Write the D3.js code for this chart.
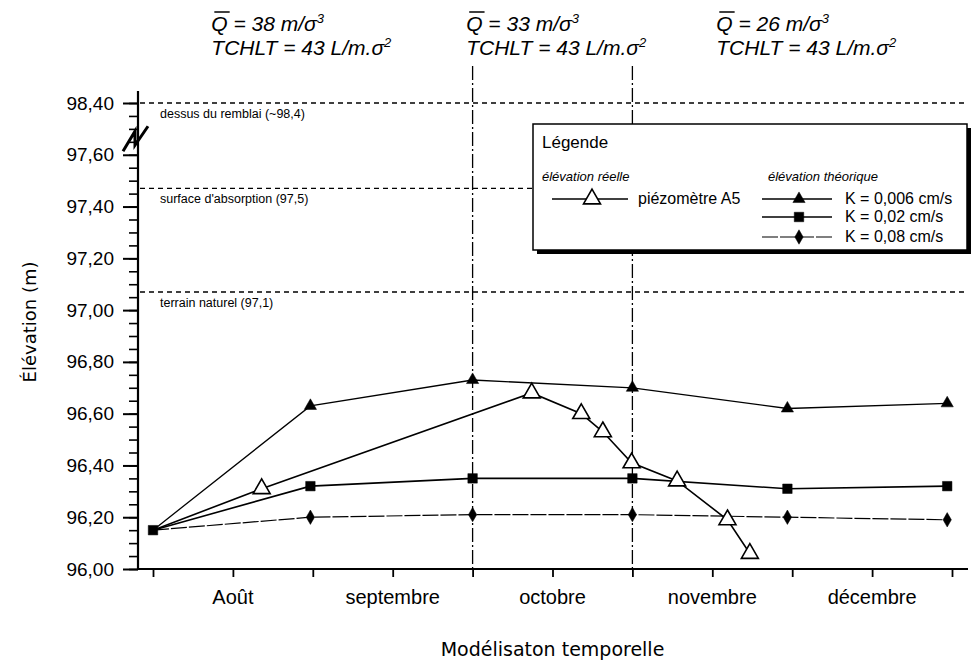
<!DOCTYPE html>
<html>
<head>
<meta charset="utf-8">
<script src="https://cdn.jsdelivr.net/npm/d3@7"></script>
<style>
  body { margin: 0; background: #fff; }
  text { font-family: "Liberation Sans", Arial, sans-serif; fill: #000; }
</style>
</head>
<body>
<div id="chart"></div>
<script>
// x positions in half-month steps (tick 0..10), y in metres
var months = ["Août", "septembre", "octobre", "novembre", "décembre"];
var yTickValues = [96.0, 96.2, 96.4, 96.6, 96.8, 97.0, 97.2, 97.4, 97.6, 98.4];
var yTickLabels = ["96,00", "96,20", "96,40", "96,60", "96,80", "97,00", "97,20", "97,40", "97,60", "98,40"];

var piezoX = [0, 1.36, 4.74, 5.36, 5.63, 5.99, 6.56, 7.19, 7.47];
var piezoY = [96.15, 96.31, 96.68, 96.60, 96.53, 96.41, 96.34, 96.19, 96.06];

var theoX = [0, 1.97, 4.0, 6.0, 7.94, 9.94];
var k006 = [96.15, 96.63, 96.73, 96.70, 96.62, 96.64];
var k002 = [96.15, 96.32, 96.35, 96.35, 96.31, 96.32];
var k008 = [96.15, 96.20, 96.21, 96.21, 96.20, 96.19];

var refNames = ["dessus du remblai (~98,4)", "surface d'absorption (97,5)", "terrain naturel (97,1)"];
var refValues = [98.4, 97.47, 97.07];

var periodX = [4, 6];
var periodQ = ["38", "33", "26"];
var periodTitleX = [0.73, 3.92, 7.05];

var W = 974, H = 667;
var svg = d3.select("#chart").append("svg")
    .attr("width", W).attr("height", H);

// broken axis: values above 97.7 are shifted down by 0.6
function disp(v) { return v >= 97.7 ? v - 0.6 : v; }

var x = d3.scaleLinear().domain([0, 10]).range([153, 952]);
var y = d3.scaleLinear().domain([96, 97.8]).range([569, 103]);
var axisX = 138;

// y axis - minor ticks
svg.append("g")
    .attr("transform", "translate(" + axisX + ",0)")
    .call(d3.axisLeft(y).tickValues(d3.range(0, 37).map(function(i){ return 96 + i * 0.05; }))
          .tickSize(9).tickFormat(""))
    .call(function(g){ g.select(".domain").remove(); g.selectAll("line").attr("stroke-width", 1.6); });

// y axis - major ticks
svg.append("g")
    .attr("transform", "translate(" + axisX + ",0)")
    .call(d3.axisLeft(y).tickValues(yTickValues.map(disp))
          .tickSize(15).tickPadding(9)
          .tickFormat(function(d, i){ return yTickLabels[i]; }))
    .call(function(g){
      g.select(".domain").remove();
      g.selectAll("line").attr("stroke-width", 2);
      g.selectAll("text").style("font-size", "19px").style("font-family", "Liberation Sans, Arial, sans-serif");
    });

svg.append("line")
    .attr("x1", axisX).attr("x2", axisX)
    .attr("y1", 91).attr("y2", y(96) + 1)
    .attr("stroke", "#000").attr("stroke-width", 2.2);

// axis break mark
var yb = y(97.66);
svg.append("path")
    .attr("d", "M" + (axisX - 15) + "," + (yb + 12) + " L" + (axisX - 3) + "," + (yb - 8) +
               " L" + (axisX - 3) + "," + (yb + 6) + " L" + (axisX + 10) + "," + (yb - 13))
    .attr("fill", "none").attr("stroke", "#000").attr("stroke-width", 3)
    .attr("stroke-linejoin", "miter");

// x axis
svg.append("line")
    .attr("x1", axisX - 1).attr("x2", 968)
    .attr("y1", y(96)).attr("y2", y(96))
    .attr("stroke", "#000").attr("stroke-width", 2.2);
svg.append("g")
    .attr("transform", "translate(0," + y(96) + ")")
    .call(d3.axisBottom(x).ticks(10).tickSize(8).tickFormat(""))
    .call(function(g){ g.select(".domain").remove(); g.selectAll("line").attr("stroke-width", 1.8); });

svg.selectAll(".month")
  .data(months)
  .enter()
  .append("text")
    .attr("x", function(d, i){ return x(1 + 2 * i); })
    .attr("y", 604)
    .attr("text-anchor", "middle")
    .style("font-size", "20px")
    .text(function(d){ return d; });

// axis titles
svg.append("text")
    .attr("x", (x(0) + x(10)) / 2)
    .attr("y", 656)
    .attr("text-anchor", "middle")
    .style("font-family", "DejaVu Sans, sans-serif")
    .style("font-size", "19px")
    .text("Modélisaton temporelle");

svg.append("text")
    .attr("transform", "translate(36," + 322 + ") rotate(-90)")
    .attr("text-anchor", "middle")
    .style("font-family", "DejaVu Sans, sans-serif")
    .style("font-size", "18px")
    .text("Élévation (m)");

// reference levels
refValues.forEach(function(v, i){
  svg.append("line")
      .attr("x1", axisX + 2).attr("x2", 968)
      .attr("y1", y(disp(v))).attr("y2", y(disp(v)))
      .attr("stroke", "#000").attr("stroke-width", 1.3)
      .attr("stroke-dasharray", "5,4");
  svg.append("text")
      .attr("x", 160).attr("y", y(disp(v)) + 15)
      .style("font-size", "12.5px")
      .text(refNames[i]);
});

// period separators
periodX.forEach(function(v){
  svg.append("line")
      .attr("x1", x(v)).attr("x2", x(v))
      .attr("y1", 66).attr("y2", y(96))
      .attr("stroke", "#000").attr("stroke-width", 1.3)
      .attr("stroke-dasharray", "14,3,2,3");
});

// period titles
periodQ.forEach(function(q, i){
  var tx = x(periodTitleX[i]);
  var t1 = svg.append("text")
      .attr("x", tx).attr("y", 31)
      .style("font-size", "21px").style("font-style", "italic");
  t1.append("tspan").text("Q = " + q + " m/σ");
  t1.append("tspan").attr("dy", -8).style("font-size", "13px").text("3");
  var qw = t1.node().getSubStringLength(0, 1);
  var qx = t1.node().getStartPositionOfChar(0).x;
  svg.append("line")
      .attr("x1", qx + 3).attr("x2", qx + qw + 2)
      .attr("y1", 12).attr("y2", 12)
      .attr("stroke", "#000").attr("stroke-width", 1.5);
  var t2 = svg.append("text")
      .attr("x", tx).attr("y", 55)
      .style("font-size", "21px").style("font-style", "italic");
  t2.append("tspan").text("TCHLT = 43 L/m.σ");
  t2.append("tspan").attr("dy", -8).style("font-size", "13px").text("2");
});

// series
var line = d3.line()
    .x(function(d){ return x(d[0]); })
    .y(function(d){ return y(d[1]); });

function zipXY(xs, ys){ return xs.map(function(v, i){ return [v, ys[i]]; }); }

var series = [
  {pts: zipXY(theoX, k006), sym: d3.symbolTriangle, size: 65, fill: "#000", sw: 1.3, dash: null},
  {pts: zipXY(theoX, k008), sym: d3.symbolDiamond, size: 60, fill: "#000", sw: 1.2, dash: "16,2"},
  {pts: zipXY(theoX, k002), sym: d3.symbolSquare, size: 90, fill: "#000", sw: 1.6, dash: null},
  {pts: zipXY(piezoX, piezoY), sym: d3.symbolTriangle, size: 125, fill: "#fff", sw: 1.6, dash: null}
];

series.forEach(function(s){
  svg.append("path")
      .datum(s.pts)
      .attr("d", line)
      .attr("fill", "none")
      .attr("stroke", "#000")
      .attr("stroke-width", s.sw)
      .attr("stroke-dasharray", s.dash);
});

series.forEach(function(s, si){
  svg.selectAll(".m" + si)
    .data(s.pts.filter(function(d, i){ return i > 0 || s.sym === d3.symbolSquare; }))
    .enter()
    .append("path")
      .attr("transform", function(d){ return "translate(" + x(d[0]) + "," + y(d[1]) + ")"; })
      .attr("d", d3.symbol().type(s.sym).size(s.size))
      .attr("fill", s.fill)
      .attr("stroke", "#000")
      .attr("stroke-width", s.fill === "#fff" ? 1.6 : 0.5);
});

// legend
var lg = svg.append("g");
lg.append("rect").attr("x", 537).attr("y", 128).attr("width", 434).attr("height", 126).attr("fill", "#000");
lg.append("rect").attr("x", 533).attr("y", 124).attr("width", 434).attr("height", 126)
    .attr("fill", "#fff").attr("stroke", "#000").attr("stroke-width", 1.5);
lg.append("text").attr("x", 542).attr("y", 148).style("font-size", "17px").text("Légende");
lg.append("text").attr("x", 542).attr("y", 181).style("font-size", "13px").style("font-style", "italic").text("élévation réelle");
lg.append("text").attr("x", 768).attr("y", 181).style("font-size", "13px").style("font-style", "italic").text("élévation théorique");

var legendItems = [
  {label: "piézomètre A5", s: series[3], x1: 552, x2: 628, ty: 199, tx: 638},
  {label: "K = 0,006 cm/s", s: series[0], x1: 762, x2: 832, ty: 199, tx: 845},
  {label: "K = 0,02 cm/s", s: series[2], x1: 762, x2: 832, ty: 217, tx: 845},
  {label: "K = 0,08 cm/s", s: series[1], x1: 762, x2: 832, ty: 237, tx: 845}
];
legendItems.forEach(function(it){
  lg.append("line")
      .attr("x1", it.x1).attr("x2", it.x2).attr("y1", it.ty).attr("y2", it.ty)
      .attr("stroke", "#000").attr("stroke-width", it.s.sw)
      .attr("stroke-dasharray", it.s.dash);
  lg.append("path")
      .attr("transform", "translate(" + ((it.x1 + it.x2) / 2 + 2) + "," + it.ty + ")")
      .attr("d", d3.symbol().type(it.s.sym).size(it.s.size))
      .attr("fill", it.s.fill).attr("stroke", "#000")
      .attr("stroke-width", it.s.fill === "#fff" ? 1.6 : 0.5);
  lg.append("text")
      .attr("x", it.tx).attr("y", it.ty + 5)
      .style("font-size", "16px")
      .text(it.label);
});
</script>
</body>
</html>
